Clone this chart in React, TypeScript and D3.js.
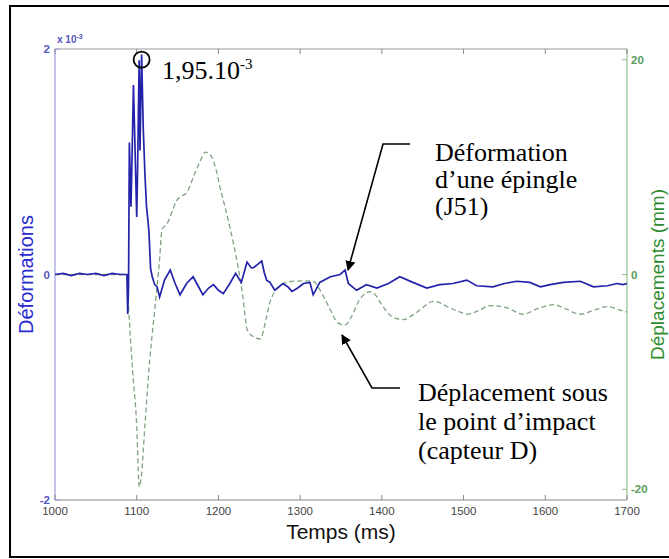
import React from "react";
import * as d3 from "d3";

// Time (ms) / strain (x 1e-3) for the pin gauge J51
const strainT = [1000,1010,1020,1030,1040,1050,1060,1070,1080,1088,1089,1090,1091,1093,1095,1096,1098,1100,1101,1103,1104,1106,1108,1110,1112,1114,1115,1117,1119,1122,1125,1128,1134,1141,1147,1153,1161,1169,1175,1181,1188,1194,1200,1206,1214,1221,1228,1235,1240,1243,1248,1253,1256,1259,1263,1269,1272,1279,1285,1290,1297,1304,1312,1316,1324,1337,1349,1355,1359,1369,1381,1394,1408,1422,1438,1455,1471,1487,1504,1516,1536,1550,1565,1581,1594,1606,1622,1643,1659,1676,1688,1695,1700];
const strainV = [0,0.01,-0.01,0.01,0,0.01,-0.01,0.01,0,0,-0.35,-0.1,1.17,0.6,1.3,1.68,1.1,0.51,0.9,1.9,1.1,1.95,1.3,0.9,0.6,0.46,0.37,0.05,-0.02,-0.09,-0.11,-0.2,-0.05,0.04,-0.08,-0.18,-0.08,-0.02,-0.1,-0.18,-0.12,-0.09,-0.14,-0.17,-0.08,0.01,-0.07,0.11,0.06,0.06,0.09,0.12,0.02,-0.05,-0.07,-0.14,-0.12,-0.08,-0.11,-0.15,-0.12,-0.08,-0.07,-0.18,-0.07,-0.02,0,0.04,-0.08,-0.14,-0.09,-0.12,-0.08,-0.02,-0.07,-0.12,-0.09,-0.08,-0.05,-0.1,-0.11,-0.08,-0.06,-0.07,-0.11,-0.09,-0.07,-0.06,-0.11,-0.1,-0.08,-0.09,-0.08];

// Time (ms) / displacement (mm) under the impact point (sensor D)
const dispT = [1000,1088,1090,1095,1100,1103,1106,1110,1116,1122,1128,1131,1137,1143,1149,1155,1161,1171,1178,1184,1188,1192,1197,1202,1208,1214,1224,1230,1235,1243,1251,1259,1263,1269,1275,1288,1304,1316,1324,1331,1337,1346,1355,1363,1373,1386,1392,1398,1414,1426,1443,1463,1470,1480,1496,1504,1520,1532,1553,1573,1590,1610,1625,1643,1660,1676,1695,1700];
const dispV = [0,0,-3,-9,-14.1,-19.8,-18.5,-14.1,-7.9,-3.3,1.4,4.2,4.7,5.8,6.9,7.3,7.6,9.4,10.6,11.4,11.3,10.9,9.8,8.1,6.3,4.4,0.7,-2.1,-5.1,-5.8,-6.0,-3.9,-2.6,-1.6,-1.1,-0.65,-0.6,-0.65,-1.4,-2.4,-3.3,-4.5,-4.7,-3.9,-2.3,-1.6,-1.9,-2.6,-4.0,-4.2,-3.5,-2.5,-2.6,-3.0,-3.5,-3.7,-3.3,-2.9,-3.1,-3.7,-3.2,-2.8,-3.2,-3.7,-3.3,-3.0,-3.4,-3.5];

const xTicks = [1000,1100,1200,1300,1400,1500,1600,1700];
const leftTicks = [2,0,-2];
const rightTicks = [20,0,-20];

const W = 669, H = 559;
const L = 55, R = 627, T = 49, B = 500;

export default function App() {
  const x = d3.scaleLinear().domain([1000, 1700]).range([L, R]);
  const yL = d3.scaleLinear().domain([-2, 2]).range([B, T]);
  const yR = d3.scaleLinear().domain([-21, 21]).range([B, T]);

  const strain = strainT.map((t, i) => [t, strainV[i]] as [number, number]);
  const disp = dispT.map((t, i) => [t, dispV[i]] as [number, number]);
  const lineS = d3.line<[number, number]>().x(d => x(d[0])).y(d => yL(d[1]));
  const lineD = d3.line<[number, number]>().x(d => x(d[0])).y(d => yR(d[1])).curve(d3.curveMonotoneX);

  const sans = "Arial, 'Liberation Sans', sans-serif";
  const serif = "'Times New Roman', 'Liberation Serif', serif";
  const blue = "#2222aa";
  const green = "#2e8b2e";

  return (
    <svg width={W} height={H} style={{ position: "absolute", left: 0, top: 0, background: "#fff" }}>
      <defs>
        <marker id="ah" viewBox="0 0 10 10" refX="9" refY="5" markerWidth="10" markerHeight="10" orient="auto-start-reverse" markerUnits="userSpaceOnUse">
          <path d="M0,0 L10,5 L0,10 z" fill="#000" />
        </marker>
      </defs>
      <rect x={10} y={6} width={670} height={551} fill="#fff" stroke="#000" strokeWidth={2} />

      {/* plot frame */}
      <line x1={L} x2={R} y1={T} y2={T} stroke="#999" strokeWidth={1} />
      <line x1={L} x2={R} y1={B} y2={B} stroke="#888" strokeWidth={1} />
      <line x1={L} x2={L} y1={T} y2={B} stroke="#9a9ae0" strokeWidth={1.2} />
      <line x1={R} x2={R} y1={T} y2={B} stroke="#8fc08f" strokeWidth={1.2} />

      {xTicks.map(t => (
        <g key={t}>
          <line x1={x(t)} x2={x(t)} y1={B} y2={B - 5} stroke="#888" />
          <line x1={x(t)} x2={x(t)} y1={T} y2={T + 5} stroke="#888" />
          <text x={x(t)} y={515} textAnchor="middle" fontFamily={sans} fontSize={11.5} fill="#444">{t}</text>
        </g>
      ))}
      {leftTicks.map(v => (
        <g key={v}>
          <line x1={L} x2={L + 5} y1={yL(v)} y2={yL(v)} stroke="#9a9ae0" />
          <text x={L - 5} y={yL(v) + 4} textAnchor="end" fontFamily={sans} fontSize={11.5} fontWeight="bold" fill="#5555bb">{v}</text>
        </g>
      ))}
      <text x={L + 2} y={43} fontFamily={sans} fontSize={10} fontWeight="bold" fill="#5555bb">x 10<tspan dy={-4} fontSize={7}>-3</tspan></text>
      {rightTicks.map(v => (
        <g key={v}>
          <line x1={R - 5} x2={R} y1={yR(v)} y2={yR(v)} stroke="#8fc08f" />
          <text x={R + 4} y={yR(v) + 4} textAnchor="start" fontFamily={sans} fontSize={11.5} fontWeight="bold" fill="#5a9a5a">{v}</text>
        </g>
      ))}

      {/* series */}
      <path d={lineD(disp) || ""} fill="none" stroke="#7fa27f" strokeWidth={1.3} strokeDasharray="5,3" />
      <path d={lineS(strain) || ""} fill="none" stroke={blue} strokeWidth={1.7} />

      {/* axis titles */}
      <text x={L + (R - L) / 2} y={539} textAnchor="middle" fontFamily={sans} fontSize={21} fill="#111">Temps (ms)</text>
      <text transform={`translate(33,${yL(0)}) rotate(-90)`} textAnchor="middle" fontFamily={sans} fontSize={20} fill="#2a2ad0">Déformations</text>
      <text transform={`translate(664,${yL(0)}) rotate(-90)`} textAnchor="middle" fontFamily={sans} fontSize={19} fill={green}>Déplacements (mm)</text>

      {/* peak annotation */}
      <circle cx={x(1106)} cy={yL(1.95) + 5} r={8} fill="none" stroke="#000" strokeWidth={1.8} />
      <text x={162} y={79} fontFamily={serif} fontSize={26} fill="#000">1,95.10<tspan dy={-10} fontSize={15}>-3</tspan></text>

      {/* J51 annotation */}
      <polyline points={`410,144 383,144 348,270`} fill="none" stroke="#000" strokeWidth={1.6} markerEnd="url(#ah)" />
      <text fontFamily={serif} fontSize={26} fill="#000">
        <tspan x={435} y={161}>Déformation</tspan>
        <tspan x={435} y={188}>d’une épingle</tspan>
        <tspan x={435} y={215}>(J51)</tspan>
      </text>

      {/* sensor D annotation */}
      <polyline points={`400,388 372,388 342,335`} fill="none" stroke="#000" strokeWidth={1.6} markerEnd="url(#ah)" />
      <text fontFamily={serif} fontSize={26} fill="#000">
        <tspan x={418} y={401}>Déplacement sous</tspan>
        <tspan x={418} y={430}>le point d’impact</tspan>
        <tspan x={418} y={459}>(capteur D)</tspan>
      </text>
    </svg>
  );
}
